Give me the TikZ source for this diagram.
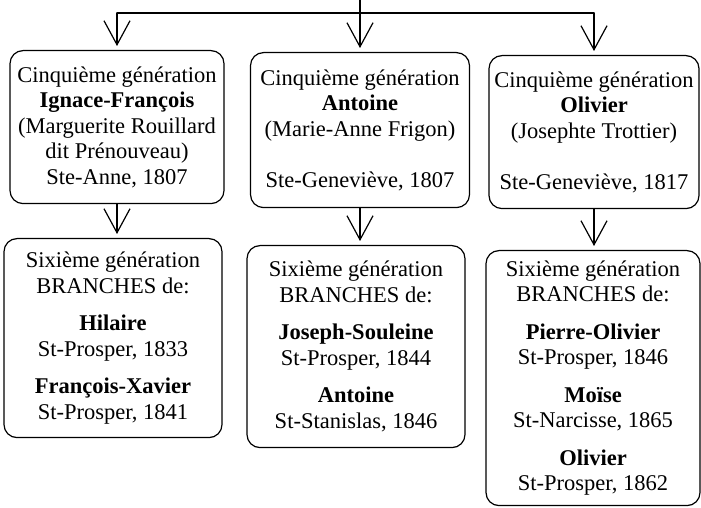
\documentclass[tikz,border=0pt]{standalone}
\usepackage{fontspec}
\setmainfont{Liberation Serif}
\usetikzlibrary{arrows.meta}

\tikzset{
  genbox/.style={draw, rounded corners=13pt, line width=1.2pt, align=center,
    inner xsep=4pt, inner ysep=0pt, anchor=north,
    font=\fontsize{22.5}{25.5}\selectfont},
  descent/.style={-{Straight Barb[length=24pt,width=26pt]}, line width=1.2pt,
    shorten >=4pt},
}

\begin{document}
\begin{tikzpicture}[line cap=round,line join=round,x=1pt,y=1pt]
\useasboundingbox (0,0) rectangle (701,508);

% cinquieme generation
\node[genbox, minimum width=214pt, minimum height=153pt] (gen5a) at (117,458)
  {Cinquième génération\\ \textbf{Ignace-François}\\ (Marguerite Rouillard\\ dit Prénouveau)\\ Ste-Anne, 1807};
\node[genbox, minimum width=219pt, minimum height=155pt] (gen5b) at (360,456)
  {Cinquième génération\\ \textbf{Antoine}\\ (Marie-Anne Frigon)\\[25.5pt] Ste-Geneviève, 1807};
\node[genbox, minimum width=210pt, minimum height=153pt] (gen5c) at (594,453)
  {Cinquième génération\\ \textbf{Olivier}\\ (Josephte Trottier)\\[25.5pt] Ste-Geneviève, 1817};

% sixieme generation
\node[genbox, minimum width=218pt, minimum height=199pt] (gen6a) at (113,270)
  {Sixième génération\\ BRANCHES de:\\[12pt] \textbf{Hilaire}\\ St-Prosper, 1833\\[12pt] \textbf{François-Xavier}\\ St-Prosper, 1841};
\node[genbox, minimum width=218pt, minimum height=202pt] (gen6b) at (356,263)
  {Sixième génération\\ BRANCHES de:\\[12pt] \textbf{Joseph-Souleine}\\ St-Prosper, 1844\\[12pt] \textbf{Antoine}\\ St-Stanislas, 1846};
\node[genbox, minimum width=214pt, minimum height=255pt] (gen6c) at (593,258)
  {Sixième génération\\ BRANCHES de:\\[12pt] \textbf{Pierre-Olivier}\\ St-Prosper, 1846\\[12pt] \textbf{Moïse}\\ St-Narcisse, 1865\\[12pt] \textbf{Olivier}\\ St-Prosper, 1862};

% connectors
\coordinate (root) at (360,508);
\coordinate (fork) at (360,495);
\draw[line width=1.2pt] (root) -- (fork);
\draw[line width=1.2pt] (gen5a.north |- fork) -- (gen5c.north |- fork);
\foreach \g in {gen5a,gen5b,gen5c}
  \draw[descent] (\g.north |- fork) -- (\g.north);
\draw[descent] (gen5a.south) -- (gen5a.south |- gen6a.north);
\draw[descent] (gen5b.south) -- (gen5b.south |- gen6b.north);
\draw[descent] (gen5c.south) -- (gen5c.south |- gen6c.north);
\end{tikzpicture}
\end{document}
